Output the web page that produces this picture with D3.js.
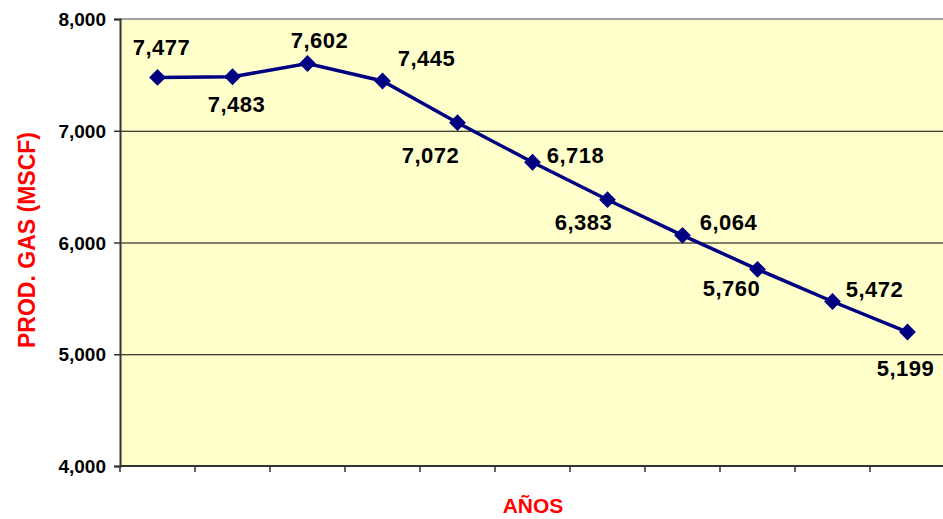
<!DOCTYPE html>
<html><head><meta charset="utf-8">
<script src="https://cdn.jsdelivr.net/npm/d3@7/dist/d3.min.js"></script>
<style>body{margin:0;background:#fff;}svg{display:block;}</style>
</head><body>
<svg id="c" width="943" height="519"></svg>
<script>
const categories = ["1","2","3","4","5","6","7","8","9","10","11"];
const values = [7477,7483,7602,7445,7072,6718,6383,6064,5760,5472,5199];
const yTicks = [4000,5000,6000,7000,8000];
// label placement per point: dx, dy relative to marker
const labelPos = [[4,-30],[4,27],[12,-23],[44,-23],[-27,32],[43,-7],[-24,22],[46,-13],[-26,19],[42,-12],[-2,36]];

(function(){
const svg = d3.select("#c");
const pLeft = 120, pTop = 19, pBottom = 466, bandW = 75;
const x = d3.scaleBand().domain(categories).range([pLeft, pLeft + bandW*categories.length]);
const y = d3.scaleLinear().domain([4000,8000]).range([pBottom, pTop]);
const font = "Liberation Sans, Arial, sans-serif";

svg.append("rect").attr("x", pLeft).attr("y", pTop).attr("width", x.range()[1]-pLeft).attr("height", pBottom-pTop).attr("fill", "#FFFFCC");
svg.append("line").attr("x1", pLeft).attr("x2", 943).attr("y1", pTop).attr("y2", pTop).attr("stroke", "#a0a0a0").attr("stroke-width", 2);
svg.selectAll(".g").data(yTicks.filter(t => t>4000 && t<8000)).enter().append("line")
  .attr("x1", pLeft).attr("x2", 943).attr("y1", d=>y(d)+0.5).attr("y2", d=>y(d)+0.5).attr("stroke", "#000").attr("stroke-width", 1);

const ya = svg.append("g").attr("transform", `translate(${pLeft},0)`)
  .call(d3.axisLeft(y).tickValues(yTicks).tickFormat(d3.format(",")).tickSize(6).tickPadding(8));
ya.select(".domain").attr("stroke", "#333").attr("stroke-width", 2);
ya.selectAll(".tick line").attr("stroke", "#333").attr("stroke-width", 1.5);
ya.selectAll("text").attr("font-family", font).attr("font-weight", "bold").attr("font-size", 19).attr("fill", "#000").attr("dy", "0.35em");

const xa = svg.append("g").attr("transform", `translate(0,${pBottom})`);
xa.append("line").attr("x1", pLeft).attr("x2", 943).attr("y1", 0).attr("y2", 0).attr("stroke", "#333").attr("stroke-width", 2);
const bounds = categories.map(c => x(c)).concat([x.range()[1]]);
xa.selectAll(".t").data(bounds).enter().append("line")
  .attr("x1", d=>d).attr("x2", d=>d).attr("y1", 0).attr("y2", 6).attr("stroke", "#333").attr("stroke-width", 1.5);

const cx = d => x(d) + x.bandwidth()/2;
const line = d3.line().x((d,i)=>cx(categories[i])).y(d=>y(d));
svg.append("path").datum(values).attr("d", line).attr("fill", "none").attr("stroke", "#000080").attr("stroke-width", 3.5);
svg.selectAll(".m").data(values).enter().append("path")
  .attr("d", d3.symbol().type(d3.symbolDiamond2).size(180))
  .attr("transform", (d,i)=>`translate(${cx(categories[i])},${y(d)})`)
  .attr("fill", "#000080");

svg.selectAll(".lbl").data(values).enter().append("text")
  .attr("x", (d,i)=>cx(categories[i]) + labelPos[i][0])
  .attr("y", (d,i)=>y(d) + labelPos[i][1])
  .attr("dy", "0.36em")
  .attr("text-anchor", "middle")
  .attr("font-family", font).attr("font-weight", "bold").attr("font-size", 22)
  .attr("letter-spacing", 0.5)
  .attr("fill", "#000")
  .text(d => d3.format(",")(d));

svg.append("text").attr("transform", "translate(27,240) rotate(-90)").attr("text-anchor", "middle")
  .attr("dy", "0.36em")
  .attr("font-family", font).attr("font-weight", "bold").attr("font-size", 23)
  .attr("fill", "#FF0000").text("PROD. GAS (MSCF)");
svg.append("text").attr("x", 533).attr("y", 513).attr("text-anchor", "middle")
  .attr("font-family", font).attr("font-weight", "bold").attr("font-size", 21)
  .attr("fill", "#FF0000").text("AÑOS");
})();
</script>
</body></html>
